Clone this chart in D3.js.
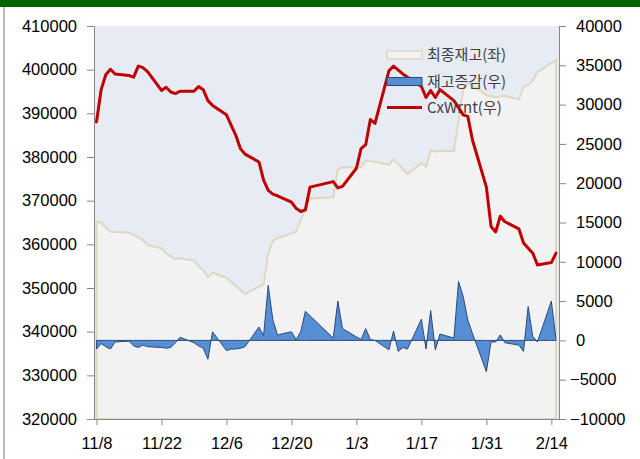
<!DOCTYPE html>
<html>
<head>
<meta charset="utf-8">
<script src="https://cdn.jsdelivr.net/npm/d3@7"></script>
<style>
  html, body { margin: 0; padding: 0; background: #fff; }
  svg text { font-family: "Liberation Sans", Arial, "Noto Sans CJK KR", sans-serif; }
</style>
</head>
<body>
<svg id="chart" width="640" height="459"></svg>
<script>
// 최종재고 (left axis)
var invDates = ["11/8","11/9","11/11","11/15","11/18","11/19","11/22","11/23","11/25","11/26",
    "11/29","11/30","12/1","12/2","12/3","12/6","12/8","12/10","12/14","12/15",
    "12/16","12/17","12/20","12/21","12/22","12/23","12/24","12/29","12/30","12/31",
    "1/4","1/5","1/7","1/10","1/11","1/14","1/17","1/18","1/19","1/20",
    "1/21","1/24","1/25","1/26","1/27","1/28","1/31","2/2","2/4","2/7",
    "2/8","2/9","2/10","2/11","2/14","2/15"];
var invValues = [365200,365000,362900,362700,361000,359800,359100,357900,356600,356800,
    356300,355000,354100,352500,353500,352300,350500,348600,350900,357900,
    360800,361400,362500,362900,365600,368000,370500,370800,377200,377600,
    377600,379200,378900,378200,379500,376100,378600,377800,381600,381200,
    381400,381400,388500,395300,397000,396300,394200,393700,394000,393200,
    396000,396500,397500,399500,401500,402200];

// 재고증감 (right axis)
var chgDates = ["11/8","11/9","11/10","11/11","11/12","11/15","11/16","11/17","11/18","11/19",
    "11/22","11/23","11/24","11/25","11/26","11/29","11/30","12/1","12/2","12/3",
    "12/6","12/7","12/8","12/9","12/10","12/13","12/14","12/15","12/16","12/17",
    "12/20","12/21","12/22","12/23","12/29","12/30","12/31","1/4","1/5","1/6","1/7",
    "1/10","1/11","1/12","1/13","1/14","1/17","1/18","1/19","1/20","1/21",
    "1/24","1/25","1/26","1/27","1/28","1/31","2/1","2/2","2/3","2/4",
    "2/7","2/8","2/9","2/10","2/11","2/14","2/15"];
var chgValues = [-1100,-400,-800,-1100,-200,-100,-700,-900,-600,-800,
    -900,-1000,-900,-300,400,-300,-700,-1000,-2400,1100,
    -1300,-1100,-1100,-1000,-800,1700,600,7000,2600,700,
    1100,100,1100,3700,300,5000,1500,100,1500,100,0,
    -1200,1200,-1400,-900,-1100,2700,-1100,3800,-1200,800,
    300,7500,5600,2600,900,-4000,-200,-200,700,-300,
    -600,-1400,4300,500,-200,5000,100];

// CxWrnt (right axis)
var cxDates = ["11/8","11/9","11/10","11/11","11/12","11/15","11/16","11/17","11/18","11/19",
    "11/22","11/23","11/24","11/25","11/26","11/29","11/30","12/1","12/2","12/3",
    "12/6","12/7","12/8","12/9","12/10","12/13","12/14","12/15","12/16","12/17",
    "12/20","12/21","12/22","12/23","12/24","12/29","12/30","12/31",
    "1/3","1/4","1/5","1/6","1/7","1/10","1/11","1/13",
    "1/17","1/18","1/19","1/20","1/21","1/24","1/26","1/27","1/28",
    "1/31","2/1","2/2","2/3","2/4","2/7","2/8","2/10","2/11","2/14","2/15"];
var cxValues = [27800,31900,33800,34500,33900,33700,33500,34900,34700,34200,
    31800,32200,31600,31400,31700,31700,32300,31900,30500,29900,
    28700,27400,26100,24400,23700,22700,20400,19100,18600,18400,
    17600,16800,16400,16600,19500,20200,19400,19600,
    21900,24400,24900,28100,27600,34300,34900,33900,
    32300,30900,31800,30900,31900,30500,28700,28500,25500,
    19500,14500,13800,15800,15100,14200,12400,11100,9600,9900,11100];

var leftTicks = [320000,330000,340000,350000,360000,370000,380000,390000,400000,410000];
var rightTicks = [-10000,-5000,0,5000,10000,15000,20000,25000,30000,35000,40000];
var xTickLabels = ["11/8","11/22","12/6","12/20","1/3","1/17","1/31","2/14"];
var legendLabels = ["최종재고(좌)", "재고증감(우)", "CxWrnt(우)"];

var toDate = function toDate(s) {
    var p = s.split("/"),
        m = +p[0];
    return new Date(m >= 9 ? 2010 : 2011, m - 1, +p[1]);
};

var zip = function zip(dates, values) {
    return dates.map(function(d, i) { return {date: toDate(d), value: values[i]}; });
};

var svg = d3.select("#chart"),
    plot = {left: 94, right: 559, top: 26, bottom: 419},
    x = d3.scaleTime()
        .domain([toDate("11/8"), toDate("2/15")])
        .range([96.5, 556]),
    yL = d3.scaleLinear().domain([320000, 410000]).range([plot.bottom, plot.top]),
    yR = d3.scaleLinear().domain([-10000, 40000]).range([plot.bottom, plot.top]),
    inv = zip(invDates, invValues),
    chg = zip(chgDates, chgValues),
    cx = zip(cxDates, cxValues);

// frame
svg.append("rect").attr("x", 0).attr("y", 0).attr("width", 640).attr("height", 7).attr("fill", "#006400");
svg.append("line").attr("x1", 4).attr("x2", 4).attr("y1", 7).attr("y2", 459)
    .attr("stroke", "#a6a6a6").attr("stroke-width", 1.5);

// plot background
svg.append("rect")
    .attr("x", plot.left).attr("y", plot.top)
    .attr("width", plot.right - plot.left).attr("height", plot.bottom - plot.top)
    .attr("fill", "#e7ecf4");

// inventory area
svg.append("path")
    .datum(inv)
    .attr("fill", "#f2f2f2")
    .attr("stroke", "#ddd8c2")
    .attr("stroke-width", 2)
    .attr("d", d3.area()
        .x(function(d) { return x(d.date); })
        .y0(plot.bottom)
        .y1(function(d) { return yL(d.value); }));

// change area
svg.append("path")
    .datum(chg)
    .attr("fill", "#558ed5")
    .attr("stroke", "#2a4a78")
    .attr("stroke-width", 1)
    .attr("stroke-linejoin", "round")
    .attr("d", d3.area()
        .x(function(d) { return x(d.date); })
        .y0(yR(0))
        .y1(function(d) { return yR(d.value); }));

// CxWrnt line
svg.append("path")
    .datum(cx)
    .attr("fill", "none")
    .attr("stroke", "#c00000")
    .attr("stroke-width", 3)
    .attr("stroke-linejoin", "round")
    .attr("stroke-linecap", "round")
    .attr("d", d3.line()
        .x(function(d) { return x(d.date); })
        .y(function(d) { return yR(d.value); }));

// axes
var styleAxis = function styleAxis(g) {
    g.selectAll("path, line").attr("stroke", "#868686").attr("stroke-width", 1);
    g.selectAll("text").attr("fill", "#000").style("font-size", "16.5px");
};

svg.append("g")
    .attr("transform", "translate(" + plot.left + ",0)")
    .call(d3.axisLeft(yL).tickValues(leftTicks).tickSize(7).tickPadding(10).tickSizeOuter(0)
        .tickFormat(d3.format("d")))
    .call(styleAxis);

var rAxis = svg.append("g")
    .attr("transform", "translate(" + plot.right + ",0)")
    .call(d3.axisRight(yR).tickValues(rightTicks).tickSize(7).tickPadding(10).tickSizeOuter(0)
        .tickFormat(d3.format("d")))
    .call(styleAxis);
rAxis.selectAll(".tick text")
    .attr("x", function(d) { return d < 0 ? 11 : 17; });

svg.append("g")
    .attr("transform", "translate(0," + plot.bottom + ")")
    .call(d3.axisBottom(x).tickValues(xTickLabels.map(toDate)).tickSize(6).tickPadding(12)
        .tickSizeOuter(0)
        .tickFormat(function(d, i) { return xTickLabels[i]; }))
    .call(styleAxis)
    .select(".domain")
        .attr("d", "M" + plot.left + ",0.5H" + plot.right);

// legend
var legend = svg.append("g").attr("transform", "translate(387,0)"),
    rowY = [55, 81.5, 107.5];

legend.append("rect").attr("x", 0).attr("y", rowY[0] - 4).attr("width", 35).attr("height", 8)
    .attr("fill", "#f2f2f2").attr("stroke", "#ddd8c2").attr("stroke-width", 1.5);
legend.append("rect").attr("x", 0).attr("y", rowY[1] - 4).attr("width", 35).attr("height", 8)
    .attr("fill", "#558ed5").attr("stroke", "#2a4a78").attr("stroke-width", 1);
legend.append("line").attr("x1", 0).attr("x2", 35).attr("y1", rowY[2]).attr("y2", rowY[2])
    .attr("stroke", "#c00000").attr("stroke-width", 3);

legend.selectAll("text.lbl")
    .data(legendLabels)
    .enter().append("text")
        .attr("class", "lbl")
        .attr("x", 40)
        .attr("y", function(d, i) { return rowY[i]; })
        .attr("dy", "0.36em")
        .attr("fill", "#404040")
        .style("font-family", "'Noto Sans CJK KR', 'Liberation Sans', sans-serif")
        .style("font-size", "15px")
        .text(function(d) { return d; });
</script>
</body>
</html>
